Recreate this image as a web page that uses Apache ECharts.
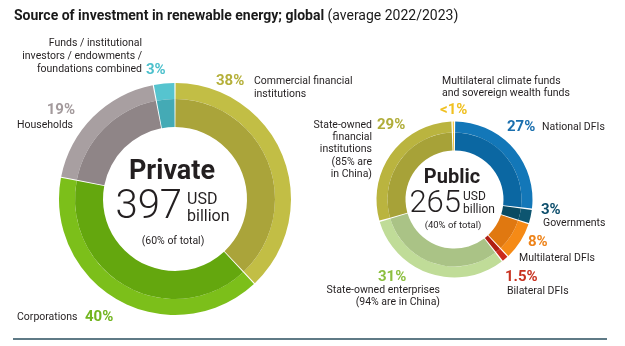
<!DOCTYPE html>
<html>
<head>
<meta charset="utf-8">
<script src="https://cdn.jsdelivr.net/npm/echarts@6/dist/echarts.min.js"></script>
<style>
  html, body { margin: 0; padding: 0; background: #ffffff; }
  #chart { width: 625px; height: 346px; }
</style>
</head>
<body>
<div id="chart"></div>
<script>
// ---- Data: shares of renewable-energy investment (%), average 2022/2023 ----
const privateCategories = [
  'Commercial financial\ninstitutions',
  'Corporations',
  'Households',
  'Funds / institutional\ninvestors / endowments /\nfoundations combined'
];
const privateShares = [38, 40, 19, 3];
const privateTotalUsdBn = 397;
const privateShareOfTotal = 60;

const publicCategories = [
  'National DFIs',
  'Governments',
  'Multilateral DFIs',
  'Bilateral DFIs',
  'State-owned enterprises\n(94% are in China)',
  'State-owned\nfinancial\ninstitutions\n(85% are\nin China)',
  'Multilateral climate funds\nand sovereign wealth funds'
];
const publicShares = [27, 3, 8, 1.5, 31, 29, 0.5];
const publicTotalUsdBn = 265;
const publicShareOfTotal = 40;

// ---- Styles ----
const privateOuterColors = ['#c2be45', '#7cbf1a', '#a89fa1', '#56c4cf'];
const privateInnerColors = ['#aaa43a', '#64a70e', '#8f8587', '#44aab5'];
const privateLabelColors = ['#b5b03a', '#72b520', '#a39a9c', '#4cc0cc'];

const publicOuterColors = ['#1377b8', '#0d5570', '#f58a16', '#cc2a1c', '#c0dc98', '#bab43f', '#f2c230'];
const publicInnerColors = ['#0b67a2', '#0a4a62', '#e07810', '#b02014', '#aac386', '#a7a238', '#e8b820'];
const publicLabelColors = ['#1a6fae', '#0d4e6c', '#ee8319', '#c83220', '#8cbf3f', '#b0ad3a', '#f0c020'];

const FONT = 'Roboto, "Noto Sans", sans-serif';
const TEXT = '#231f20';

const pctText = v => (v < 1 ? '<1%' : v + '%');

function ring(center, radius, cats, vals, colors, pad) {
  return {
    type: 'pie',
    center: center,
    radius: radius,
    startAngle: 90,
    clockwise: true,
    padAngle: pad,
    silent: true,
    animation: false,
    label: { show: false },
    labelLine: { show: false },
    emphasis: { disabled: true },
    data: cats.map((c, i) => ({ name: c, value: vals[i], itemStyle: { color: colors[i] } }))
  };
}

function txt(x, y, text, o) {
  o = o || {};
  return {
    type: 'text',
    silent: true,
    style: {
      x: x, y: y, text: text,
      fill: o.fill || TEXT,
      font: o.font || ('10.5px ' + FONT),
      align: o.align || 'left',
      verticalAlign: o.va || 'middle',
      lineHeight: o.lh
    }
  };
}
const pctFont = 'bold 15px ' + FONT;

// label placement: [x, y, align] for the percentage and the name of each slice
const privatePctPos = [[216, 81, 'left'], [85, 317, 'left'], [75, 110, 'right'], [146, 70, 'left']];
const privateNamePos = [[254, 81, 'left', 'top'], [17, 317, 'left'], [73, 125, 'right'], [142, 43, 'right', 'top']];
const publicPctPos = [[507, 127, 'left'], [541, 210, 'left'], [528, 242, 'left'], [505, 277, 'left'],
                      [378, 277, 'left'], [377, 125, 'left'], [440, 110, 'left']];
const publicNamePos = [[542, 127, 'left'], [543, 223, 'left'], [519, 258, 'left'], [507, 291, 'left'],
                       [440, 290, 'right', 'top'], [372, 125, 'right', 'top'], [442, 81, 'left', 'top']];

const graphics = [];
// title
graphics.push({
  type: 'text', silent: true,
  style: {
    x: 14, y: 16, verticalAlign: 'middle',
    text: '{b|Source of investment in renewable energy; global} {n|(average 2022/2023)}',
    rich: {
      b: { font: 'bold 14px ' + FONT, fill: '#1a1a1a' },
      n: { font: '14px ' + FONT, fill: '#1a1a1a' }
    }
  }
});

function addLabels(shares, cats, colors, pctPos, namePos, lh) {
  shares.forEach((v, i) => {
    const p = pctPos[i];
    graphics.push(txt(p[0], p[1], pctText(v), { font: pctFont, fill: colors[i], align: p[2] }));
    const n = namePos[i];
    const multi = n[3] === 'top';
    graphics.push(txt(n[0], multi ? n[1] - lh / 2 : n[1], cats[i],
      { align: n[2], va: multi ? 'top' : 'middle', lh: lh }));
  });
}
addLabels(privateShares, privateCategories, privateLabelColors, privatePctPos, privateNamePos, 13.4);
addLabels(publicShares, publicCategories, publicLabelColors, publicPctPos, publicNamePos, 12.3);

// centre captions
graphics.push(txt(172, 172, 'Private', { font: 'bold 27px ' + FONT, align: 'center' }));
graphics.push(txt(182, 208, String(privateTotalUsdBn), { font: '300 40px ' + FONT, align: 'right' }));
graphics.push(txt(187, 200, 'USD', { font: '16px ' + FONT }));
graphics.push(txt(187, 217, 'billion', { font: '16px ' + FONT }));
graphics.push(txt(173, 241, '(' + privateShareOfTotal + '% of total)', { font: '10.5px ' + FONT, align: 'center' }));

graphics.push(txt(452, 178, 'Public', { font: 'bold 20px ' + FONT, align: 'center' }));
graphics.push(txt(461, 204, String(publicTotalUsdBn), { font: '300 31px ' + FONT, align: 'right' }));
graphics.push(txt(463, 197, 'USD', { font: '12px ' + FONT }));
graphics.push(txt(463, 210, 'billion', { font: '12px ' + FONT }));
graphics.push(txt(453, 226, '(' + publicShareOfTotal + '% of total)', { font: '9.5px ' + FONT, align: 'center' }));

// rule under the figure
graphics.push({
  type: 'line', silent: true,
  shape: { x1: 13, y1: 339, x2: 607, y2: 339 },
  style: { stroke: '#5f7a86', lineWidth: 2 }
});

const chart = echarts.init(document.getElementById('chart'), null, { renderer: 'canvas' });
chart.setOption({
  animation: false,
  backgroundColor: '#ffffff',
  series: [
    ring([175, 199], [100, 116], privateCategories, privateShares, privateOuterColors, 0.6),
    ring([175, 199], [72, 100], privateCategories, privateShares, privateInnerColors, 0.6),
    ring([454.5, 199.5], [67, 78], publicCategories, publicShares, publicOuterColors, 1.0),
    ring([454.5, 199.5], [49, 67], publicCategories, publicShares, publicInnerColors, 1.0)
  ],
  graphic: { elements: graphics }
});
</script>
</body>
</html>
